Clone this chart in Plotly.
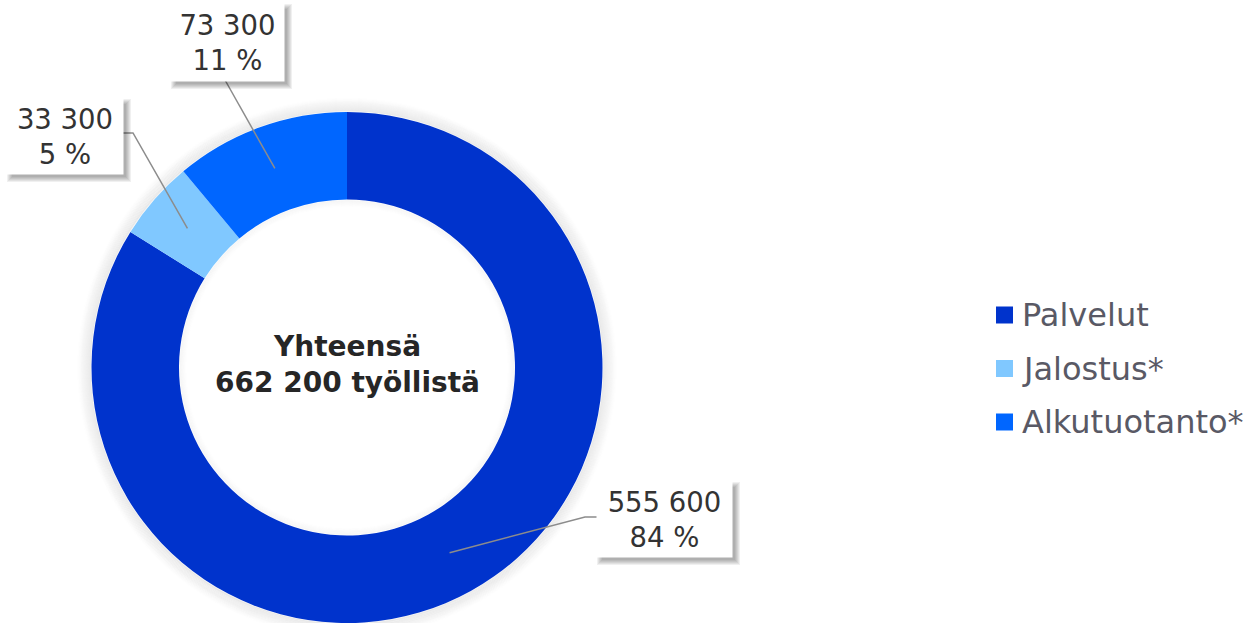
import math
import plotly.graph_objects as go

# Työlliset toimialoittain
labels = ["Palvelut", "Jalostus*", "Alkutuotanto*"]
values = [555600, 33300, 73300]
colors = ["#0033CC", "#80C8FF", "#0066FF"]

W, H = 1248, 623
cx, cy, R, R_IN = 347, 367.5, 255.5, 168


def px(x):
    return x / W


def py(y):
    return 1 - y / H


def fmt(v):
    return f"{v:,}".replace(",", " ")


total = sum(values)

fig = go.Figure(go.Pie(
    labels=labels,
    values=values,
    marker=dict(colors=colors, line=dict(width=0)),
    hole=R_IN / R,
    sort=False,
    direction="clockwise",
    textinfo="none",
    hoverinfo="label+value+percent",
    showlegend=False,
    domain=dict(x=[px(cx - R), px(cx + R)], y=[0, py(cy - R)]),
))

shapes = []

# pehmeä varjo renkaan ympärillä
for k in range(1, 15):
    a = 0.065 * (1 - k / 15)
    shapes.append(dict(type="circle", xref="paper", yref="paper",
                       x0=px(cx - R - k), x1=px(cx + R + k),
                       y0=py(cy + R + k), y1=py(cy - R - k),
                       line=dict(color=f"rgba(0,0,0,{a:.3f})", width=1.5),
                       layer="below"))
for k in range(1, 8):
    a = 0.03 * (1 - k / 8)
    rad = R_IN - k
    shapes.append(dict(type="circle", xref="paper", yref="paper",
                       x0=px(cx - rad), x1=px(cx + rad),
                       y0=py(cy + rad), y1=py(cy - rad),
                       line=dict(color=f"rgba(0,0,0,{a:.3f})", width=1.5),
                       layer="above"))

# arvolaatikot: keskipiste, leveys, korkeus, viivan taite (px)
boxes = [
    dict(c=(664.5, 519.5), w=133, h=73, elbow=(598, 517, 585, 517)),
    dict(c=(65, 136.5), w=114, h=73, elbow=(122, 133, 133, 133)),
    dict(c=(227.5, 42.5), w=111, h=75, elbow=(225, 80, 225, 80)),
]

annotations = []
cum = 0
r_mid = (R + R_IN) / 2
for v, b in zip(values, boxes):
    frac = v / total
    theta = math.radians(360 * (cum + frac / 2))
    cum += frac
    tx = cx + r_mid * math.sin(theta)
    ty = cy - r_mid * math.cos(theta)
    ex0, ey0, ex1, ey1 = b["elbow"]
    shapes.append(dict(type="path", xref="paper", yref="paper",
                       path=f"M {px(ex0)} {py(ey0)} L {px(ex1)} {py(ey1)} L {px(tx)} {py(ty)}",
                       line=dict(color="#8c8c8c", width=1.5), layer="above"))
    bx, by = b["c"]
    x0, x1 = bx - b["w"] / 2 + 4, bx + b["w"] / 2 + 4
    y0, y1 = by - b["h"] / 2 + 4, by + b["h"] / 2 + 4
    for k in range(6):
        shapes.append(dict(type="rect", xref="paper", yref="paper",
                           x0=px(x0 - k), x1=px(x1 + k),
                           y0=py(y1 + k), y1=py(y0 - k),
                           fillcolor="rgba(0,0,0,0.06)", line=dict(width=0),
                           layer="above"))
    annotations.append(dict(
        x=px(bx), y=py(by), xref="paper", yref="paper",
        xanchor="center", yanchor="middle",
        text=f"{fmt(v)}<br>{round(frac * 100)} %",
        showarrow=False, align="center",
        width=b["w"], height=b["h"], bgcolor="white",
        font=dict(family="DejaVu Sans", size=27.5, color="#333333"),
    ))

# keskiteksti
annotations.append(dict(
    x=px(cx), y=py(cy - 3), xref="paper", yref="paper",
    xanchor="center", yanchor="middle",
    text=f"<b>Yhteensä<br>{fmt(total)} työllistä</b>",
    showarrow=False, align="center",
    font=dict(family="DejaVu Sans", size=28, color="#262626"),
))

# selite
for i, (lab, col) in enumerate(zip(labels, colors)):
    yc = 315 + i * 53.5
    shapes.append(dict(type="rect", xref="paper", yref="paper",
                       x0=px(996), x1=px(1013), y0=py(yc + 8.5), y1=py(yc - 8.5),
                       fillcolor=col, line=dict(width=0), layer="above"))
    annotations.append(dict(
        x=px(1020), y=py(yc), xref="paper", yref="paper",
        text=lab, showarrow=False, xanchor="left", yanchor="middle",
        font=dict(family="DejaVu Sans", size=32, color="#595965"),
    ))

fig.update_layout(
    width=W, height=H,
    margin=dict(l=0, r=0, t=0, b=0),
    paper_bgcolor="white",
    plot_bgcolor="white",
    shapes=shapes,
    annotations=annotations,
)

fig.write_html("out.html", config={"displayModeBar": False},
               post_script="document.body.style.margin='0';")
